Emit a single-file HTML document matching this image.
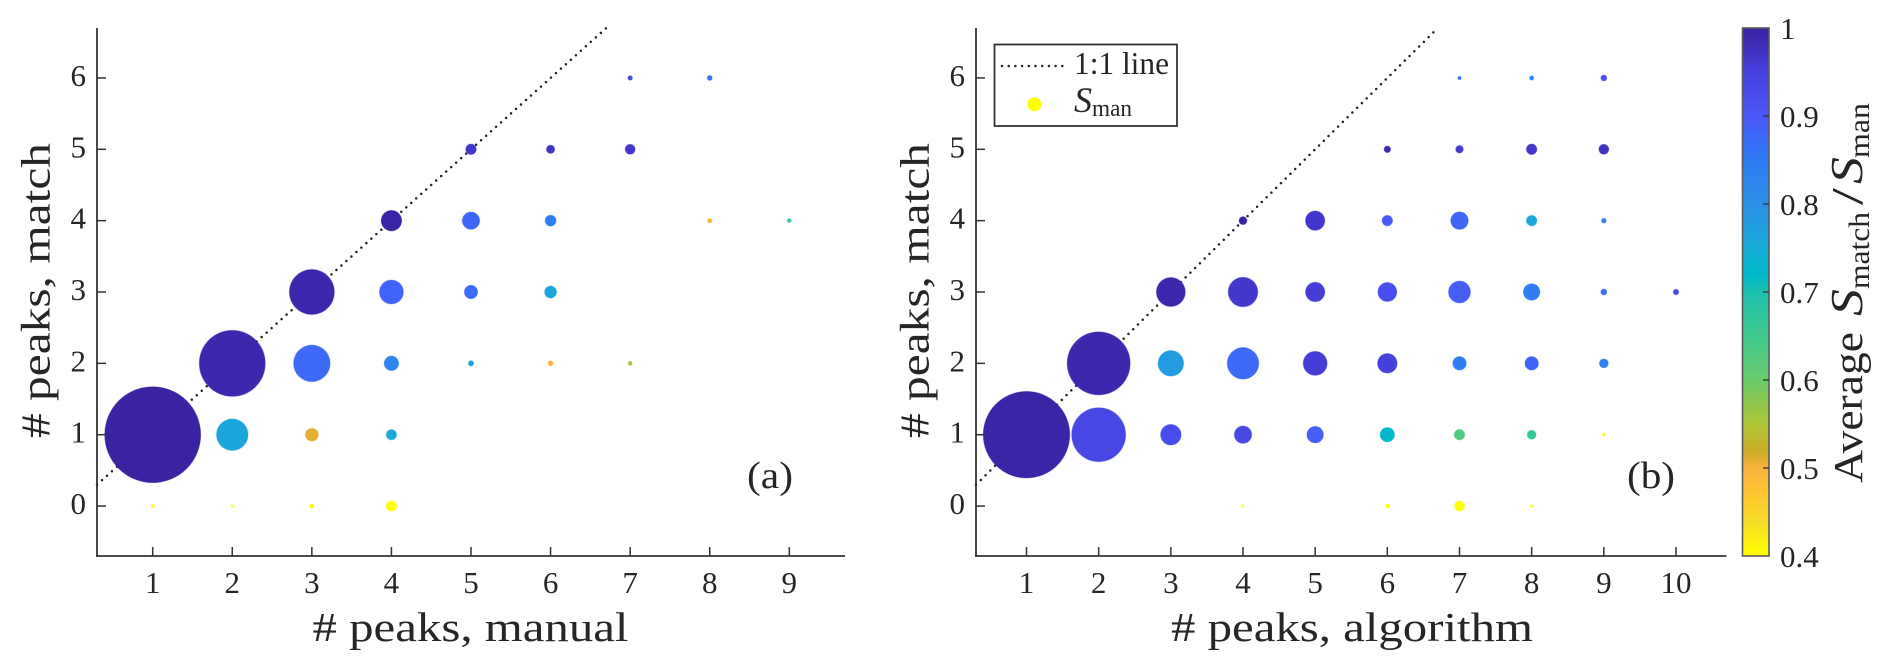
<!DOCTYPE html>
<html lang="en">
<head>
<meta charset="utf-8">
<title>Peak match bubble charts</title>
<style>
html,body{margin:0;padding:0;background:#fff;width:1892px;height:670px;overflow:hidden}
svg{display:block}
text{font-family:"Liberation Serif","DejaVu Serif",serif;fill:#262626}
</style>
</head>
<body>
<svg id="chart" xmlns="http://www.w3.org/2000/svg" width="1892" height="670" viewBox="0 0 1892 670">
  <defs>
    <linearGradient id="cbar-gradient" x1="0" y1="1" x2="0" y2="0"></linearGradient>
  </defs>
  <rect width="1892" height="670" fill="#ffffff"/>
  <g id="panel-a"></g>
  <g id="panel-b"></g>

  <text x="312.5" y="641" font-size="41" textLength="316" lengthAdjust="spacingAndGlyphs"># peaks, manual</text>
  <text transform="translate(49.5,438) rotate(-90)" font-size="41" textLength="295" lengthAdjust="spacingAndGlyphs"># peaks, match</text>
  <text x="747" y="488" font-size="38" textLength="46" lengthAdjust="spacingAndGlyphs">(a)</text>

  <text x="1171" y="641" font-size="41" textLength="362" lengthAdjust="spacingAndGlyphs"># peaks, algorithm</text>
  <text transform="translate(928.5,438) rotate(-90)" font-size="41" textLength="295" lengthAdjust="spacingAndGlyphs"># peaks, match</text>
  <text x="1627" y="488" font-size="38" textLength="48" lengthAdjust="spacingAndGlyphs">(b)</text>

  <g id="legend">
    <rect x="994.5" y="44.5" width="182.5" height="81.5" fill="#fff" stroke="#333" stroke-width="1.8"/>
    <line x1="1002" y1="66" x2="1063" y2="66" stroke="#222" stroke-width="2.5" stroke-linecap="round" stroke-dasharray="0 6.7"/>
    <text x="1074" y="74" font-size="32" textLength="95" lengthAdjust="spacingAndGlyphs">1:1 line</text>
    <circle cx="1034.3" cy="104.3" r="7" fill="#ffff00"/>
    <text x="1074" y="112" font-size="36" font-style="italic">S</text>
    <text x="1092" y="116" font-size="24" textLength="40" lengthAdjust="spacingAndGlyphs">man</text>
  </g>

  <g id="colorbar"></g>
  <g transform="translate(1862,483) rotate(-90)">
    <text x="0" y="0" font-size="41" textLength="151" lengthAdjust="spacingAndGlyphs">Average</text>
    <text x="167" y="0" font-size="46" font-style="italic" textLength="27" lengthAdjust="spacingAndGlyphs">S</text>
    <text x="194" y="7" font-size="30" textLength="77" lengthAdjust="spacingAndGlyphs">match</text>
    <text x="278" y="0" font-size="44" textLength="17" lengthAdjust="spacingAndGlyphs">/</text>
    <text x="299" y="0" font-size="46" font-style="italic" textLength="27" lengthAdjust="spacingAndGlyphs">S</text>
    <text x="325" y="7" font-size="30" textLength="55" lengthAdjust="spacingAndGlyphs">man</text>
  </g>
</svg>
<script>
// Panel (a): # peaks manual vs # peaks match
const manualPeaksA = [1,2,3,4,5,6,7,7,8,3,4,5,6,7,2,3,4,1,2,3,4,4,5,6,5,6,8,9];
const matchPeaksA  = [1,2,3,4,5,5,5,6,6,2,2,2,2,2,1,1,1,0,0,0,0,3,3,3,4,4,4,4];
const countsA      = [9216,4356,2025,424,112,71,100,21,25,1340,213,29,25,16,999,169,108,9,6,19,108,576,180,144,303,121,19,16];
const scoresA      = [1.0,.99,.99,.995,.965,.97,.965,.93,.87,.875,.82,.77,.5,.56,.76,.51,.755,.4,.4,.4,.4,.885,.87,.76,.88,.84,.5,.66];

// Panel (b): # peaks algorithm vs # peaks match
const algoPeaksB  = [1,2,2,3,3,3,4,4,4,4,5,5,5,5,6,6,6,6,6,7,7,7,7,7,7,8,8,8,8,8,8,9,9,9,9,9,9,10,4,6,7,8];
const matchPeaksB = [1,1,2,1,2,3,1,2,3,4,1,2,3,4,1,2,3,4,5,1,2,3,4,5,6,1,2,3,4,5,6,1,2,3,4,5,6,3,0,0,0,0];
const countsB     = [7500,2916,3969,424,655,841,303,999,876,64,276,576,376,376,207,384,361,112,44,112,185,484,310,58,12,81,185,276,112,112,19,7,81,36,23,100,36,31,4,16,100,6];
const scoresB     = [.995,.935,.99,.925,.78,.99,.935,.875,.965,1.0,.89,.955,.955,.965,.72,.95,.92,.9,.985,.63,.84,.89,.88,.96,.86,.66,.88,.85,.76,.965,.82,.42,.84,.87,.85,.97,.92,.93,.4,.4,.4,.4];

// Tick labels
const xTicksA = [1,2,3,4,5,6,7,8,9];
const xTicksB = [1,2,3,4,5,6,7,8,9,10];
const yTicks  = [0,1,2,3,4,5,6];
const cbarTicks = [0.4,0.5,0.6,0.7,0.8,0.9,1];

// Colormap anchors
const cmapValues = [0.4,0.44,0.47,0.5,0.52,0.55,0.6,0.65,0.7,0.72,0.75,0.8,0.85,0.9,0.95,1];
const cmapColors = ['#ffff00','#f6dc28','#ffc52f','#f8b33e','#cbad26','#adc434','#6acb6a','#3ec98c','#1cbfb0','#00b8c8','#18acd8','#2a90e6','#2f7cf5','#4a58f8','#4640dc','#3a22a0'];

const NS = 'http://www.w3.org/2000/svg';
const plotTop = 28, plotBottom = 556;
const yMin = -0.7, yMax = 6.7, xMin = 0.3;

function hexToRgb(h){return [1,3,5].map(function(i){return parseInt(h.substr(i,2),16);});}
function colorFor(v){
  if(v<=cmapValues[0]) return cmapColors[0];
  for(let i=1;i<cmapValues.length;i++){
    if(v<=cmapValues[i]){
      const t=(v-cmapValues[i-1])/(cmapValues[i]-cmapValues[i-1]);
      const a=hexToRgb(cmapColors[i-1]), b=hexToRgb(cmapColors[i]);
      return 'rgb('+a.map(function(c,k){return Math.round(c+(b[k]-c)*t);}).join(',')+')';
    }
  }
  return cmapColors[cmapColors.length-1];
}
function svgEl(tag,attrs,parent){
  const el=document.createElementNS(NS,tag);
  for(const k in attrs) el.setAttribute(k,attrs[k]);
  parent.appendChild(el);
  return el;
}

function drawPanel(groupId,left,right,xMax,xTicks,xs,ys,counts,scores){
  const g=document.getElementById(groupId);
  const sx=function(v){return left+(v-xMin)/(xMax-xMin)*(right-left);};
  const sy=function(v){return plotBottom-(v-yMin)/(yMax-yMin)*(plotBottom-plotTop);};

  const ref=svgEl('line',{x1:sx(xMin),y1:sy(xMin),x2:sx(yMax),y2:sy(yMax),stroke:'#222','stroke-width':2.5,'stroke-linecap':'round','stroke-dasharray':'0 6.7'},g);
  
  

  for(let i=0;i<xs.length;i++){
    const c=colorFor(scores[i]);
    const dot=svgEl('circle',{cx:sx(xs[i]),cy:sy(ys[i]),r:0.5*Math.sqrt(counts[i]),fill:c,stroke:c,'stroke-width':1,'stroke-opacity':0.35},g);
    
    
  }

  const yAxis=svgEl('line',{x1:left,y1:plotTop,x2:left,y2:plotBottom+0.9,stroke:'#333','stroke-width':1.8},g);
  
  
  const xAxis=svgEl('line',{x1:left-0.9,y1:plotBottom,x2:right,y2:plotBottom,stroke:'#333','stroke-width':1.8},g);
  
  

  xTicks.forEach(function(t){
    const tick=svgEl('line',{x1:sx(t),y1:plotBottom,x2:sx(t),y2:plotBottom-9,stroke:'#333','stroke-width':1.5},g);
    
    
    const lab=svgEl('text',{x:sx(t),y:593,'font-size':31,'text-anchor':'middle'},g);
    
    
    lab.textContent=t;
  });
  yTicks.forEach(function(t){
    const tick=svgEl('line',{x1:left,y1:sy(t),x2:left+9,y2:sy(t),stroke:'#333','stroke-width':1.5},g);
    
    
    const lab=svgEl('text',{x:left-11,y:sy(t)+8,'font-size':31,'text-anchor':'end'},g);
    
    
    lab.textContent=t;
  });
}

drawPanel('panel-a',97,845,9.7,xTicksA,manualPeaksA,matchPeaksA,countsA,scoresA);
drawPanel('panel-b',976,1726.5,10.7,xTicksB,algoPeaksB,matchPeaksB,countsB,scoresB);

(function(){
  const grad=document.getElementById('cbar-gradient');
  const lo=cmapValues[0], hi=cmapValues[cmapValues.length-1];
  cmapValues.forEach(function(v,i){
    svgEl('stop',{offset:((v-lo)/(hi-lo)*100)+'%','stop-color':cmapColors[i]},grad);
  });
  const g=document.getElementById('colorbar');
  const cbLeft=1742.5, cbRight=1769, cbY=function(v){return plotBottom-(v-lo)/(hi-lo)*(plotBottom-plotTop);};
  const bar=svgEl('rect',{x:cbLeft,y:plotTop,width:cbRight-cbLeft,height:plotBottom-plotTop,fill:'url(#cbar-gradient)',stroke:'#5a5a5a','stroke-width':1.6},g);
  
  
  cbarTicks.forEach(function(t){
    if(t>lo && t<hi){
      const tick=svgEl('line',{x1:cbRight-6,y1:cbY(t),x2:cbRight,y2:cbY(t),stroke:'#333','stroke-width':1.3},g);
      
      
    }
    const lab=svgEl('text',{x:1780,y:cbY(t)+11,'font-size':31},g);
    
    
    lab.textContent=t;
  });
})();
</script>
</body>
</html>
